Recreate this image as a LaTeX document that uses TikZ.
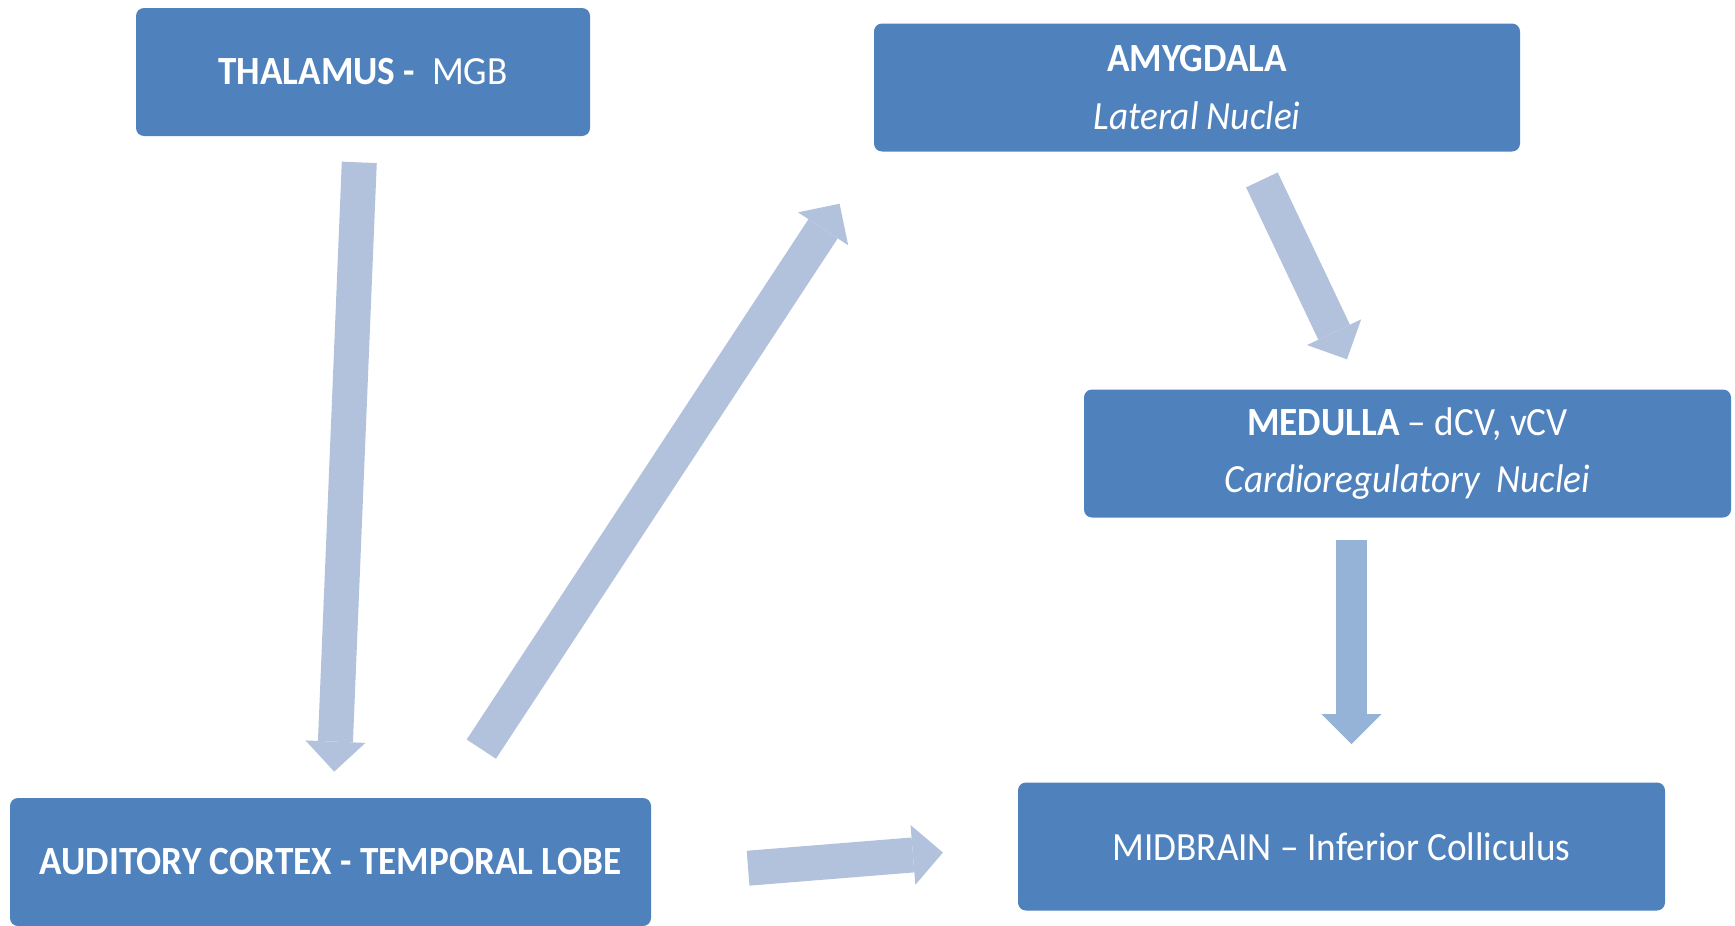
\documentclass[tikz,border=0pt]{standalone}
\usepackage{fontspec}
\setmainfont[FakeStretch=0.93]{Carlito}
\usepackage{tikz}
\usetikzlibrary{arrows.meta}
\definecolor{boxblue}{HTML}{4F81BD}
\definecolor{arrowgrey}{HTML}{B2C2DC}
\definecolor{arrowblue}{HTML}{95B3D7}

\begin{document}
\begin{tikzpicture}[x=0.5pt,y=-0.5pt,
    box/.style={fill=boxblue, text=white, rounded corners=4pt, minimum height=64pt,
      align=center, inner sep=0pt, font=\fontsize{20}{28.75}\selectfont},
    fat/.style={draw=arrowgrey, line width=17.5pt,
      -{Triangle[width=30pt,length=15pt,line width=0pt]}},
  ]
\useasboundingbox (0,0) rectangle (1735,926);
    % Brain Areas
    \node[box, minimum width=227pt] (thal) at (363,72) {\textbf{THALAMUS -}\ \ MGB};
    \node[box, minimum width=323pt] (amyg) at (1197,87.5) {\textbf{AMYGDALA}\\\textit{Lateral Nuclei}};
    \node[box, minimum width=323.5pt] (med) at (1407.5,453.5) {\textbf{MEDULLA} -- dCV, vCV\\\textit{Cardioregulatory\ \ Nuclei}};
    \node[box, minimum width=323.5pt] (mid) at (1341.5,846.5) {MIDBRAIN -- Inferior Colliculus};
    \node[box, minimum width=320.5pt] (aud) at (330.5,862) {\textbf{AUDITORY CORTEX - TEMPORAL LOBE}};
    %
% Pathway Arrows:
 \draw[fat, shorten <=13pt, shorten >=13pt] (thal) -- (aud);
 \draw[fat, shorten <=29pt, shorten >=31pt] ([xshift=59.5pt]aud.north) -- (amyg.south west);
 \draw[fat, shorten <=15.5pt, shorten >=16.5pt] ([xshift=25.8pt]amyg.south) -- ([xshift=-23.2pt]med.north);
 \draw[fat, draw=arrowblue, line width=15.5pt, shorten <=11pt, shorten >=19pt] ([xshift=-28pt]med.south) coordinate (drop) -- (drop |- mid.north);
 % Cortex to Midbrain
 \draw[fat, shorten <=48.5pt, shorten >=37.5pt] ([yshift=-7pt]aud.east) -- (mid.west);
\end{tikzpicture}
\end{document}
